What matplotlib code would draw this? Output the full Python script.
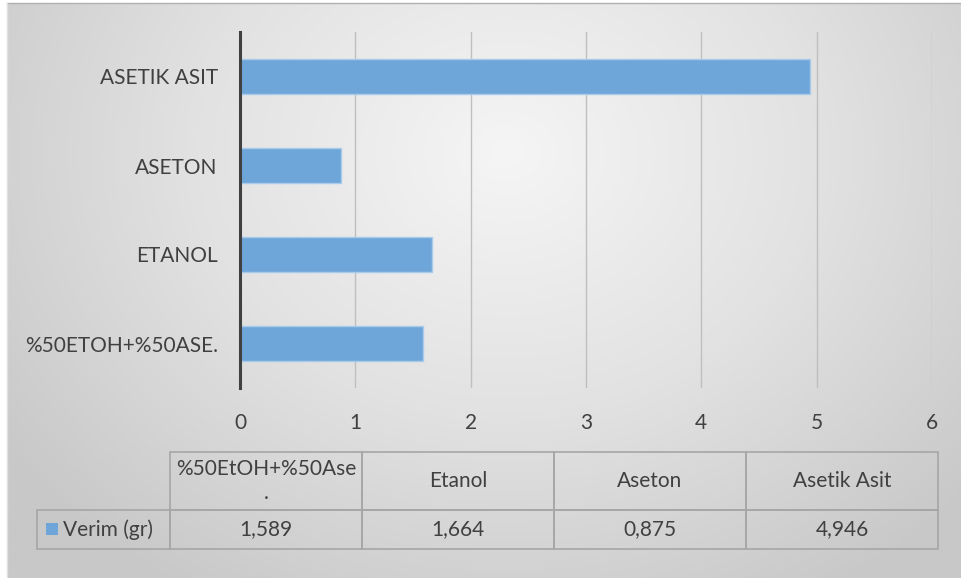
import numpy as np
import matplotlib.pyplot as plt
from matplotlib.patches import Rectangle
from matplotlib.colors import LinearSegmentedColormap

# Verim (gr) per solvent
categories = ['%50EtOH+%50Ase.', 'Etanol', 'Aseton', 'Asetik Asit']
axis_labels = ['%50ETOH+%50ASE.', 'ETANOL', 'ASETON', 'ASETIK ASIT']
table_headers = ['%50EtOH+%50Ase\n.', 'Etanol', 'Aseton', 'Asetik Asit']
series_name = 'Verim (gr)'
verim = [1.589, 1.664, 0.875, 4.946]
x_ticks = [0, 1, 2, 3, 4, 5, 6]

W, H = 961, 578
BAR = '#6fa6d9'
TXT = '#404040'
GRID = '#bfbfbf'
FONT = 'Lato'
FS = 15

plt.rcParams['font.family'] = [FONT, 'DejaVu Sans']

fig = plt.figure(figsize=(W / 100, H / 100), dpi=100)
fig.patch.set_facecolor('white')


def fx(px):
    return px / W


def fy(py):
    return 1 - py / H


# radial grey background
bg = fig.add_axes([fx(7), 0, 1 - fx(7), fy(3)])
gx, gy = np.meshgrid(np.linspace(0, 954, 480), np.linspace(0, 575, 290))
r = np.sqrt(((gx - 500) / 620) ** 2 + ((gy - 150) / 520) ** 2)
r = np.clip(r, 0, 1)
cmap = LinearSegmentedColormap.from_list('bg', ['#f5f5f5', '#e2e2e2', '#c8c8c8'])
bg.imshow(r, cmap=cmap, vmin=0, vmax=1, aspect='auto', extent=[0, 1, 0, 1],
          interpolation='bilinear')
bg.set_axis_off()
fig.add_artist(plt.Line2D([fx(7), 1], [fy(2.5), fy(2.5)], color='#b0b0b0', lw=1))
fig.add_artist(plt.Line2D([fx(7), fx(7)], [0, fy(2.5)], color='#e0e0e0', lw=1))

# bar chart
ax = fig.add_axes([fx(240), fy(388), fx(932 - 240), (388 - 32) / H])
ax.patch.set_alpha(0)
ypos = np.arange(len(verim))
ax.barh(ypos, verim, height=0.4, color=BAR, edgecolor='#a9cbeb', linewidth=1, zorder=3)
ax.set_xlim(0, 6)
ax.set_ylim(-0.5, len(verim) - 0.5)
ax.set_xticks(x_ticks)
ax.set_xticklabels([str(t) for t in x_ticks])
ax.set_yticks(ypos)
ax.set_yticklabels(axis_labels)
ax.grid(axis='x', color=GRID, lw=1, zorder=0)
ax.tick_params(axis='both', length=0, colors=TXT, labelsize=FS)
ax.tick_params(axis='x', pad=18)
ax.tick_params(axis='y', pad=16)
for s in ['top', 'right', 'bottom']:
    ax.spines[s].set_visible(False)
ax.spines['left'].set_color(TXT)
ax.spines['left'].set_linewidth(2.2)
ax.spines['left'].set_zorder(4)

# data table below the axis
tab_left, tab_right = 170, 938
leg_left = 37
row_top, row_mid, row_bot = 452, 510, 549
col_w = (tab_right - tab_left) / len(verim)
edge = '#a6a6a6'


def cell(x0, y0, x1, y1):
    fig.add_artist(Rectangle((fx(x0), fy(y1)), fx(x1 - x0), (y1 - y0) / H,
                             fill=False, edgecolor=edge, lw=1.2))


for i, (head, val) in enumerate(zip(table_headers, verim)):
    x0 = tab_left + i * col_w
    cell(x0, row_top, x0 + col_w, row_mid)
    cell(x0, row_mid, x0 + col_w, row_bot)
    fig.text(fx(x0 + col_w / 2), fy((row_top + row_mid) / 2), head, ha='center',
             va='center', fontsize=FS, color=TXT, linespacing=1.25)
    fig.text(fx(x0 + col_w / 2), fy((row_mid + row_bot) / 2),
             f'{val:.3f}'.replace('.', ','), ha='center', va='center',
             fontsize=FS, color=TXT)

cell(leg_left, row_mid, tab_left, row_bot)
fig.add_artist(Rectangle((fx(46), fy(535)), fx(12), 12 / H, facecolor=BAR,
                         edgecolor='none'))
fig.text(fx(63), fy((row_mid + row_bot) / 2), series_name, ha='left',
         va='center', fontsize=FS, color=TXT)

fig.savefig('out.png', dpi=100, facecolor=fig.get_facecolor())
